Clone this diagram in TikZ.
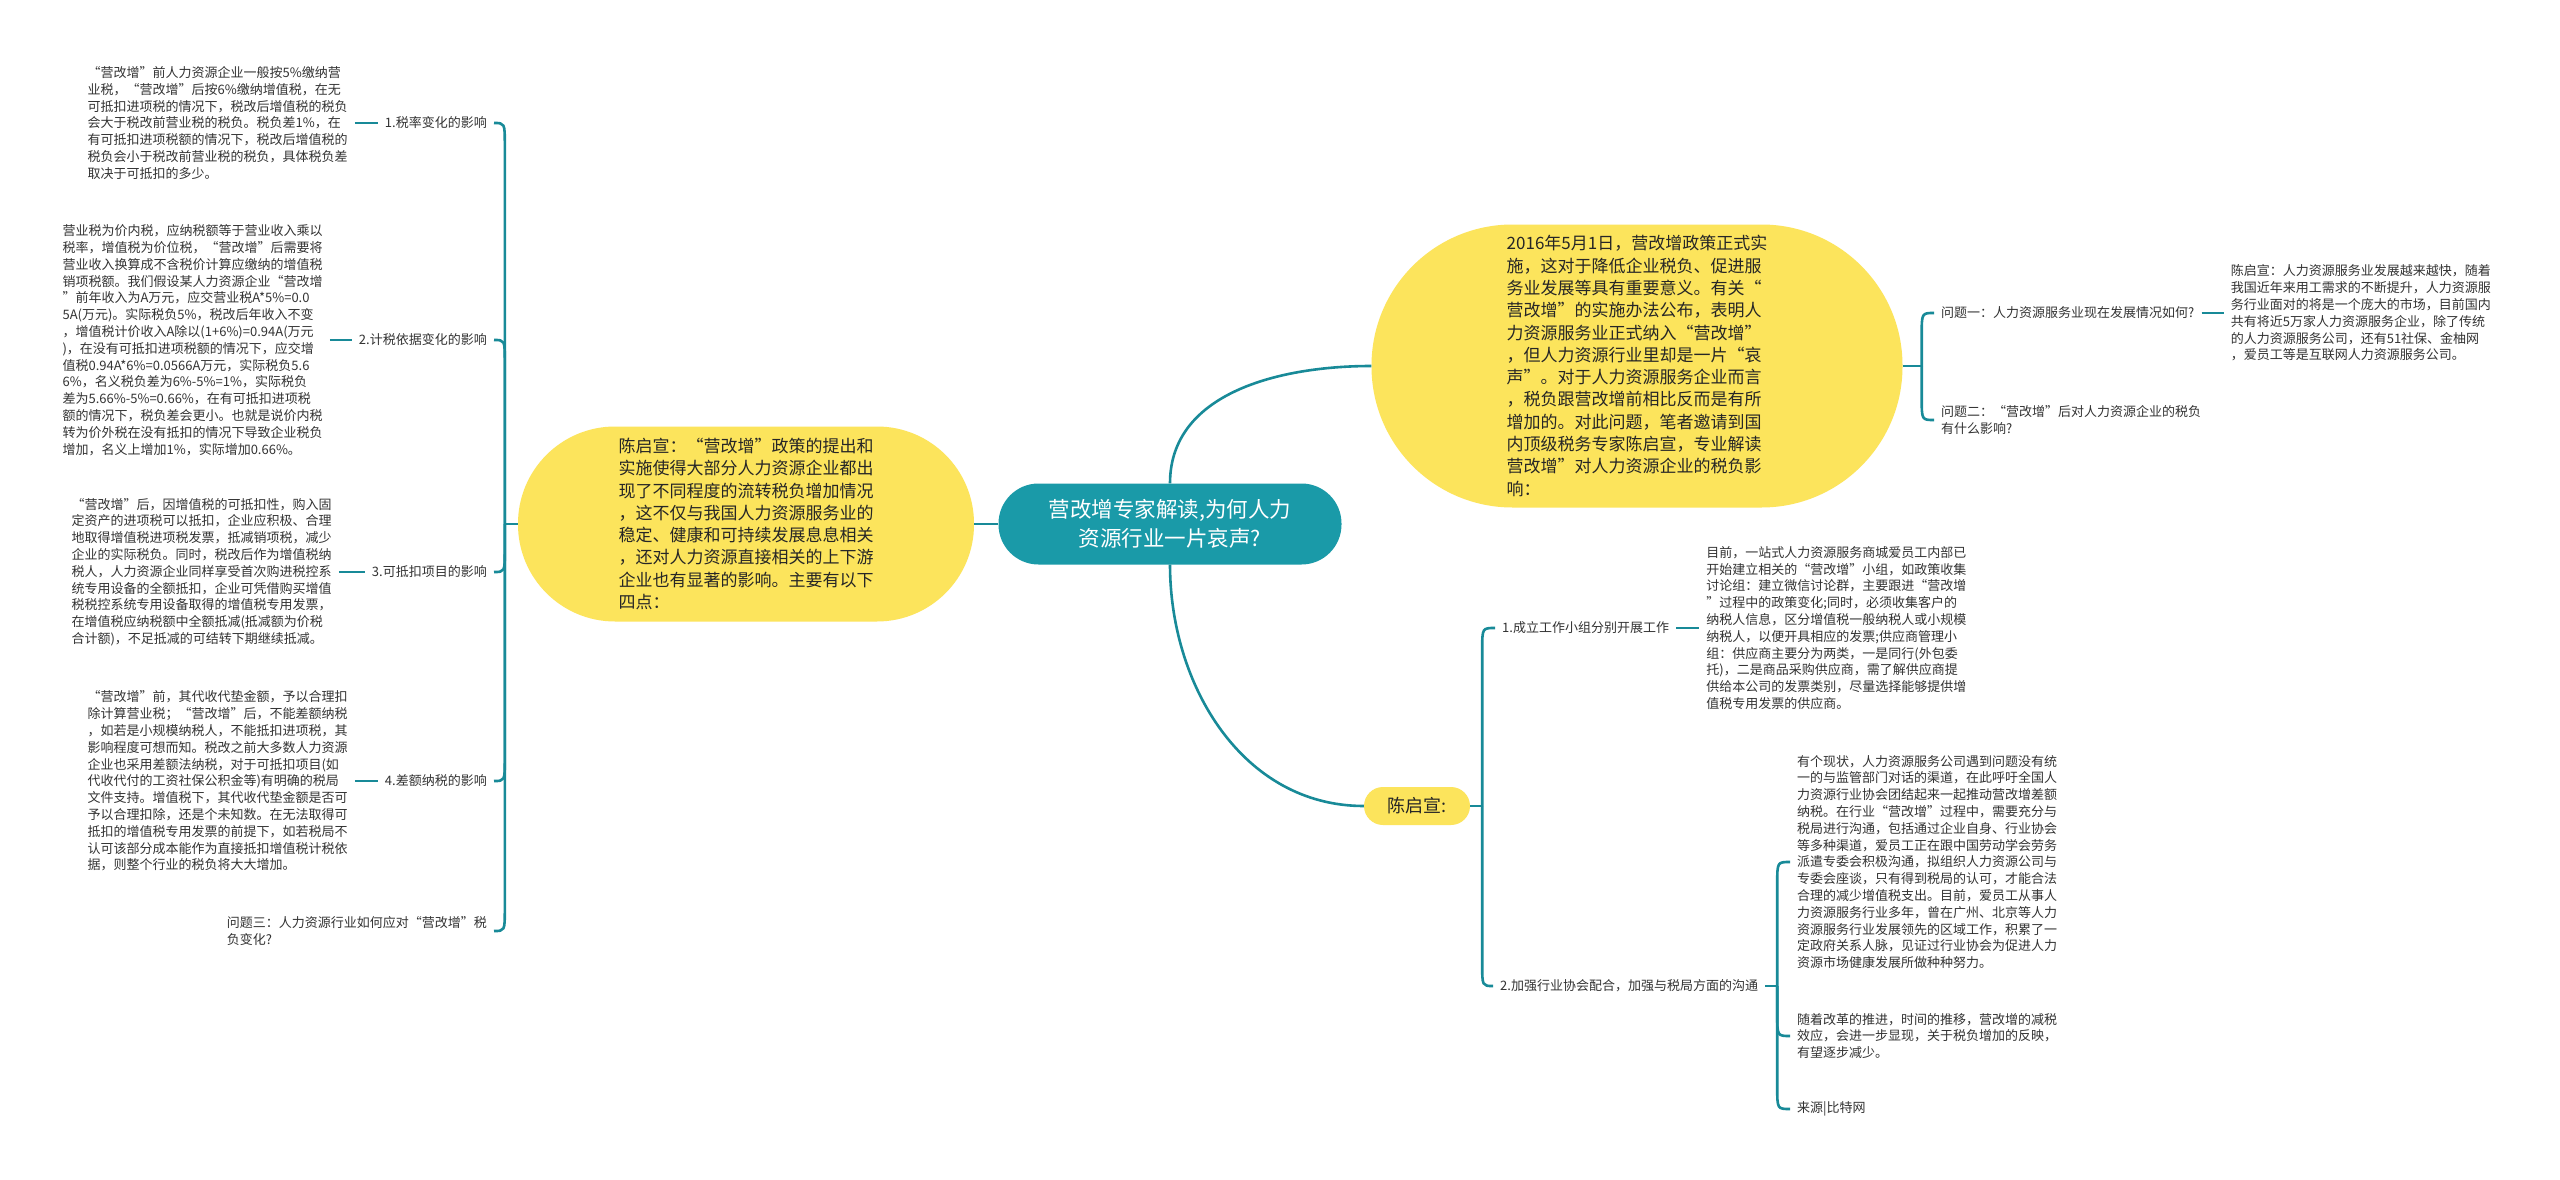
\documentclass[tikz,border=0pt]{standalone}
\usepackage{fontspec}
\setmainfont{Noto Sans CJK SC}
\usepackage{xcolor}
\usepackage{tikz}
\usetikzlibrary{positioning, calc}
\definecolor{mapteal}{RGB}{24,138,152}
\definecolor{hubteal}{RGB}{26,154,168}
\definecolor{mapyellow}{RGB}{252,228,92}
\definecolor{mapgray}{RGB}{51,51,51}
\tikzset{
    hubblock/.style={rectangle, fill=hubteal, text=white, rounded corners=40pt, minimum width=343pt, minimum height=81pt, align=center, font=\fontsize{21.5}{29}\selectfont},
    yellowblock/.style={rectangle, fill=mapyellow, text=black!85, align=left, font=\fontsize{17}{22.3}\selectfont},
    topicnode/.style={rectangle, text=mapgray, inner xsep=7pt, inner ysep=2pt, align=left, font=\fontsize{13}{16.8}\selectfont},
    notenode/.style={topicnode},
    branch/.style={draw=mapteal, line width=2.6pt}
}

\begin{document}
\begin{tikzpicture}[x=1pt, y=-1pt, node distance=23pt]
    \useasboundingbox[fill=white] (0,0) rectangle (2560,1180);
    % Nodes
    \node (hub) [hubblock] at (1170,524) {营改增专家解读,为何人力\\资源行业一片哀声?};
    \node (leftmain) [yellowblock, rounded corners=97pt, minimum width=456pt, minimum height=195pt] at (746,524) {陈启宣：“营改增”政策的提出和\\实施使得大部分人力资源企业都出\\现了不同程度的流转税负增加情况\\，这不仅与我国人力资源服务业的\\稳定、健康和可持续发展息息相关\\，还对人力资源直接相关的上下游\\企业也有显著的影响。主要有以下\\四点：};
    \node (rightmain) [yellowblock, rounded corners=141pt, minimum width=531pt, minimum height=283pt] at (1637,366) {2016年5月1日，营改增政策正式实\\施，这对于降低企业税负、促进服\\务业发展等具有重要意义。有关“\\营改增”的实施办法公布，表明人\\力资源服务业正式纳入“营改增”\\，但人力资源行业里却是一片“哀\\声”。对于人力资源服务企业而言\\，税负跟营改增前相比反而是有所\\增加的。对此问题，笔者邀请到国\\内顶级税务专家陈启宣，专业解读\\营改增”对人力资源企业的税负影\\响：};
    \node (chen) [yellowblock, rounded corners=19pt, minimum width=106pt, minimum height=38pt, font=\fontsize{18}{22}\selectfont] at (1417,806) {陈启宣:};

    % left side
    \node (rate) [topicnode, anchor=east] at (494,123) {1.税率变化的影响};
    \node (basis) [topicnode, anchor=east] at (494,340) {2.计税依据变化的影响};
    \node (deduct) [topicnode, anchor=east] at (494,572) {3.可抵扣项目的影响};
    \node (diff) [topicnode, anchor=east] at (494,781) {4.差额纳税的影响};
    \node (qthree) [topicnode, anchor=east] at (494,931) {问题三：人力资源行业如何应对“营改增”税\\负变化?};

    \node (ratetext) [notenode, left=23pt of rate] {“营改增”前人力资源企业一般按5\%缴纳营\\业税，“营改增”后按6\%缴纳增值税，在无\\可抵扣进项税的情况下，税改后增值税的税负\\会大于税改前营业税的税负。税负差1\%，在\\有可抵扣进项税额的情况下，税改后增值税的\\税负会小于税改前营业税的税负，具体税负差\\取决于可抵扣的多少。};
    \node (basistext) [notenode, left=22pt of basis] {营业税为价内税，应纳税额等于营业收入乘以\\税率，增值税为价位税，“营改增”后需要将\\营业收入换算成不含税价计算应缴纳的增值税\\销项税额。我们假设某人力资源企业“营改增\\”前年收入为A万元，应交营业税A*5\%=0.0\\5A(万元)。实际税负5\%，税改后年收入不变\\，增值税计价收入A除以(1+6\%)=0.94A(万元\\)，在没有可抵扣进项税额的情况下，应交增\\值税0.94A*6\%=0.0566A万元，实际税负5.6\\6\%，名义税负差为6\%-5\%=1\%，实际税负\\差为5.66\%-5\%=0.66\%，在有可抵扣进项税\\额的情况下，税负差会更小。也就是说价内税\\转为价外税在没有抵扣的情况下导致企业税负\\增加，名义上增加1\%，实际增加0.66\%。};
    \node (deducttext) [notenode, left=26pt of deduct] {“营改增”后，因增值税的可抵扣性，购入固\\定资产的进项税可以抵扣，企业应积极、合理\\地取得增值税进项税发票，抵减销项税，减少\\企业的实际税负。同时，税改后作为增值税纳\\税人，人力资源企业同样享受首次购进税控系\\统专用设备的全额抵扣，企业可凭借购买增值\\税税控系统专用设备取得的增值税专用发票，\\在增值税应纳税额中全额抵减(抵减额为价税\\合计额)，不足抵减的可结转下期继续抵减。};
    \node (difftext) [notenode, left=23pt of diff] {“营改增”前，其代收代垫金额，予以合理扣\\除计算营业税；“营改增”后，不能差额纳税\\，如若是小规模纳税人，不能抵扣进项税，其\\影响程度可想而知。税改之前大多数人力资源\\企业也采用差额法纳税，对于可抵扣项目(如\\代收代付的工资社保公积金等)有明确的税局\\文件支持。增值税下，其代收代垫金额是否可\\予以合理扣除，还是个未知数。在无法取得可\\抵扣的增值税专用发票的前提下，如若税局不\\认可该部分成本能作为直接抵扣增值税计税依\\据，则整个行业的税负将大大增加。};

    % right side, top
    \node (qone) [topicnode, anchor=west] at (1934,313) {问题一：人力资源服务业现在发展情况如何?};
    \node (qtwo) [topicnode, anchor=west] at (1934,420) {问题二：“营改增”后对人力资源企业的税负\\有什么影响?};
    \node (qonetext) [notenode, right=22pt of qone] {陈启宣：人力资源服务业发展越来越快，随着\\我国近年来用工需求的不断提升，人力资源服\\务行业面对的将是一个庞大的市场，目前国内\\共有将近5万家人力资源服务企业，除了传统\\的人力资源服务公司，还有51社保、金柚网\\，爱员工等是互联网人力资源服务公司。};

    % right side, bottom
    \node (team) [topicnode, anchor=west] at (1495,628) {1.成立工作小组分别开展工作};
    \node (teamtext) [notenode, right=23pt of team] {目前，一站式人力资源服务商城爱员工内部已\\开始建立相关的“营改增”小组，如政策收集\\讨论组：建立微信讨论群，主要跟进“营改增\\”过程中的政策变化;同时，必须收集客户的\\纳税人信息，区分增值税一般纳税人或小规模\\纳税人，以便开具相应的发票;供应商管理小\\组：供应商主要分为两类，一是同行(外包委\\托)，二是商品采购供应商，需了解供应商提\\供给本公司的发票类别，尽量选择能够提供增\\值税专用发票的供应商。};
    \node (assoc) [topicnode, anchor=west] at (1493,986) {2.加强行业协会配合，加强与税局方面的沟通};
    \node (assoctext) [notenode, anchor=west] at (1790,862) {有个现状，人力资源服务公司遇到问题没有统\\一的与监管部门对话的渠道，在此呼吁全国人\\力资源行业协会团结起来一起推动营改增差额\\纳税。在行业“营改增”过程中，需要充分与\\税局进行沟通，包括通过企业自身、行业协会\\等多种渠道，爱员工正在跟中国劳动学会劳务\\派遣专委会积极沟通，拟组织人力资源公司与\\专委会座谈，只有得到税局的认可，才能合法\\合理的减少增值税支出。目前，爱员工从事人\\力资源服务行业多年，曾在广州、北京等人力\\资源服务行业发展领先的区域工作，积累了一\\定政府关系人脉，见证过行业协会为促进人力\\资源市场健康发展所做种种努力。};
    \node (reformtext) [notenode, anchor=west] at (1790,1036) {随着改革的推进，时间的推移，营改增的减税\\效应，会进一步显现，关于税负增加的反映，\\有望逐步减少。};
    \node (source) [notenode, anchor=west] at (1790,1109) {来源|比特网};

    % Connectors
    \draw [branch] (hub.west) -- (leftmain.east);
    \draw [branch] (hub.north) to[out=90, in=180] (rightmain.west);
    \draw [branch] (hub.south) to[out=-90, in=180] (chen.west);

    \coordinate (lfork) at ($(leftmain.west)+(-13,0)$);
    \draw [branch] (leftmain.west) -- (lfork);
    \foreach \leaf in {rate, basis}
        \draw [branch] (lfork) -- ($(lfork |- \leaf.east)+(0,22)$) .. controls (lfork |- \leaf.east) .. (\leaf.east);
    \foreach \leaf in {deduct, diff, qthree}
        \draw [branch] (lfork) -- ($(lfork |- \leaf.east)+(0,-22)$) .. controls (lfork |- \leaf.east) .. (\leaf.east);
    \foreach \leaf in {rate, basis, deduct, diff}
        \draw [branch] (\leaf text.east) -- (\leaf.west);

    \coordinate (rfork) at ($(rightmain.east)+(19,0)$);
    \draw [branch] (rightmain.east) -- (rfork);
    \draw [branch] (rfork) -- ($(rfork |- qone.west)+(0,22)$) .. controls (rfork |- qone.west) .. (qone.west);
    \draw [branch] (rfork) -- ($(rfork |- qtwo.west)+(0,-22)$) .. controls (rfork |- qtwo.west) .. (qtwo.west);
    \draw [branch] (qone.east) -- (qonetext.west);

    \coordinate (cfork) at ($(chen.east)+(12,0)$);
    \draw [branch] (chen.east) -- (cfork);
    \draw [branch] (cfork) -- ($(cfork |- team.west)+(0,22)$) .. controls (cfork |- team.west) .. (team.west);
    \draw [branch] (cfork) -- ($(cfork |- assoc.west)+(0,-22)$) .. controls (cfork |- assoc.west) .. (assoc.west);
    \draw [branch] (team.east) -- (teamtext.west);

    \coordinate (afork) at ($(assoc.east)+(12,0)$);
    \draw [branch] (assoc.east) -- (afork);
    \draw [branch] (afork) -- ($(afork |- assoctext.west)+(0,22)$) .. controls (afork |- assoctext.west) .. (assoctext.west);
    \foreach \leaf in {reformtext, source}
        \draw [branch] (afork) -- ($(afork |- \leaf.west)+(0,-22)$) .. controls (afork |- \leaf.west) .. (\leaf.west);
\end{tikzpicture}
\end{document}
